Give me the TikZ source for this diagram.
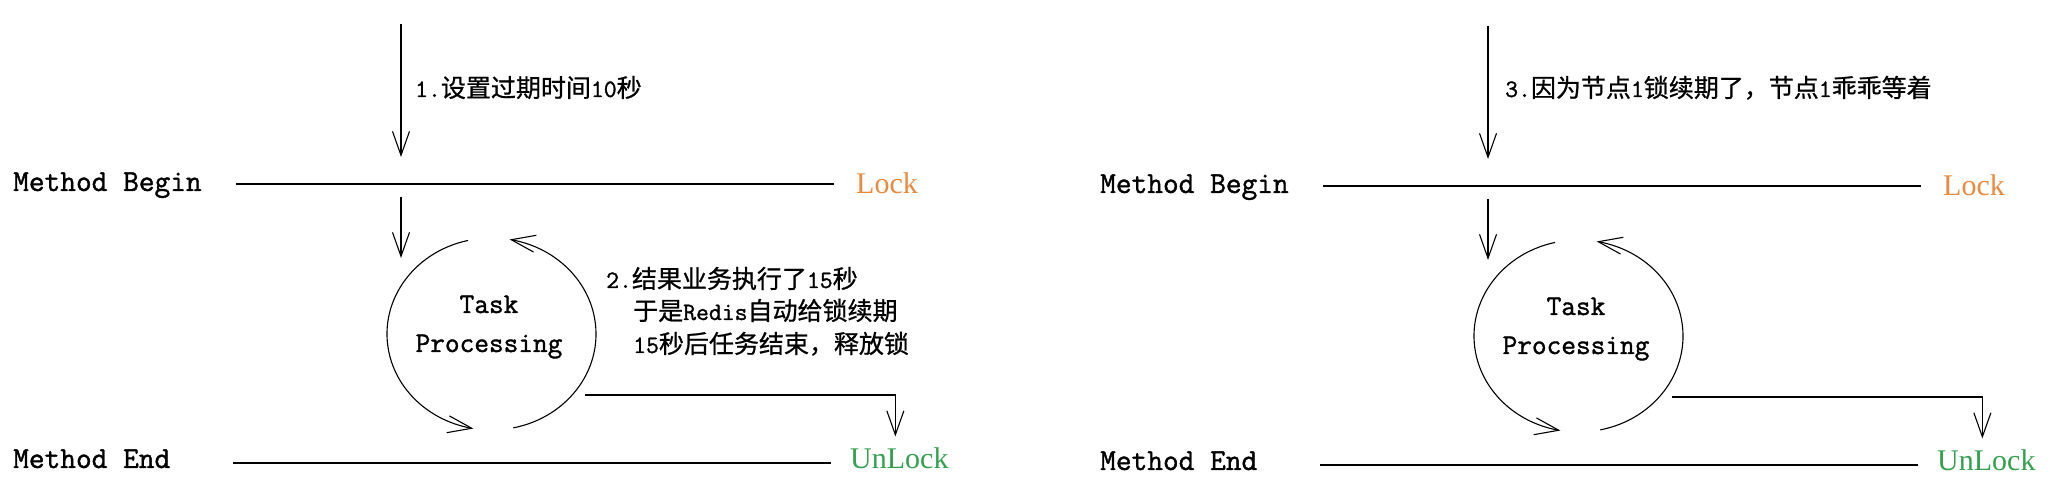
\documentclass[tikz,border=0pt]{standalone}
\usepackage{fontspec}
\setmainfont{Liberation Serif}
\setmonofont[FakeBold=1.3]{Latin Modern Mono}
\newfontfamily\cjk[FakeBold=0.8]{Noto Sans CJK SC}
\usetikzlibrary{arrows.meta,bending}
\definecolor{lockorange}{RGB}{232,138,64}
\definecolor{unlockgreen}{RGB}{52,160,80}
\newcommand\lat[1]{{\ttfamily #1}}
\tikzset{
  ln/.style={line width=1.1pt},
  arr/.style={ln,-{Straight Barb[length=24pt,width=17pt]}},
  monolabel/.style={font=\fontsize{30.5}{36}\selectfont\ttfamily,inner sep=0pt,anchor=base west},
  tasklabel/.style={font=\fontsize{28.5}{34}\selectfont\ttfamily,inner sep=0pt,anchor=base},
  locklabel/.style={font=\fontsize{30}{36}\selectfont\rmfamily,inner sep=0pt,anchor=base west},
  note/.style={font=\fontsize{25}{30}\selectfont\cjk,inner sep=0pt,anchor=base west},
}
\newcommand\drawpanel{%
  \node[monolabel] (mb) at (13,311) {Method Begin};
  \node[locklabel,text=lockorange] (lock) at (856,308) {Lock};
  \node[monolabel] (me) at (13,34) {Method End};
  \node[locklabel,text=unlockgreen] (unlock) at (850,33) {UnLock};
  \node[tasklabel] (task) at (489,189) {Task};
  \node[tasklabel] (proc) at (489,150) {Processing};
  \coordinate (bl) at (236,318); \coordinate (br) at (834,318);
  \coordinate (el) at (233,39); \coordinate (er) at (831,39);
  \coordinate (a1) at (401,478); \coordinate (a1e) at (401,345);
  \coordinate (a2) at (401,305); \coordinate (a2e) at (401,244);
  \coordinate (c) at (491.5,168);
  \coordinate (out) at (585,107);
  \draw[ln] (bl) -- (br);
  \draw[ln] (el) -- (er);
  \draw[arr] (a1) -- (a1e);
  \draw[arr] (a2) -- (a2e);
  \draw[arr] ([shift={(103:104.5pt and 96pt)}]c) arc[start angle=103,end angle=260,x radius=104.5pt,y radius=96pt];
  \draw[arr] ([shift={(282:104.5pt and 96pt)}]c) arc[start angle=282,end angle=440,x radius=104.5pt,y radius=96pt];
  \draw[arr] (out) -| ([xshift=-4pt,yshift=11.5pt]unlock.north);
}
\begin{document}
\begin{tikzpicture}[x=1pt,y=1pt]
  \useasboundingbox (0,0) rectangle (2050,502);
  \begin{scope}[name prefix=L-]
    \drawpanel
  \end{scope}
  \begin{scope}[shift={(1087,-2)},name prefix=R-]
    \drawpanel
  \end{scope}
  \node[note] (n1) at (415,405) {\lat{1.}设置过期时间\lat{10}秒};
  \node[note] (n2a) at (606,214) {\lat{2.}结果业务执行了\lat{15}秒};
  \node[note] (n2b) at (633,182) {于是\lat{Redis}自动给锁续期};
  \node[note] (n2c) at (633,149) {\lat{15}秒后任务结束，释放锁};
  \node[note] (n3) at (1505,405) {\lat{3.}因为节点\lat{1}锁续期了，节点\lat{1}乖乖等着};
\end{tikzpicture}
\end{document}
